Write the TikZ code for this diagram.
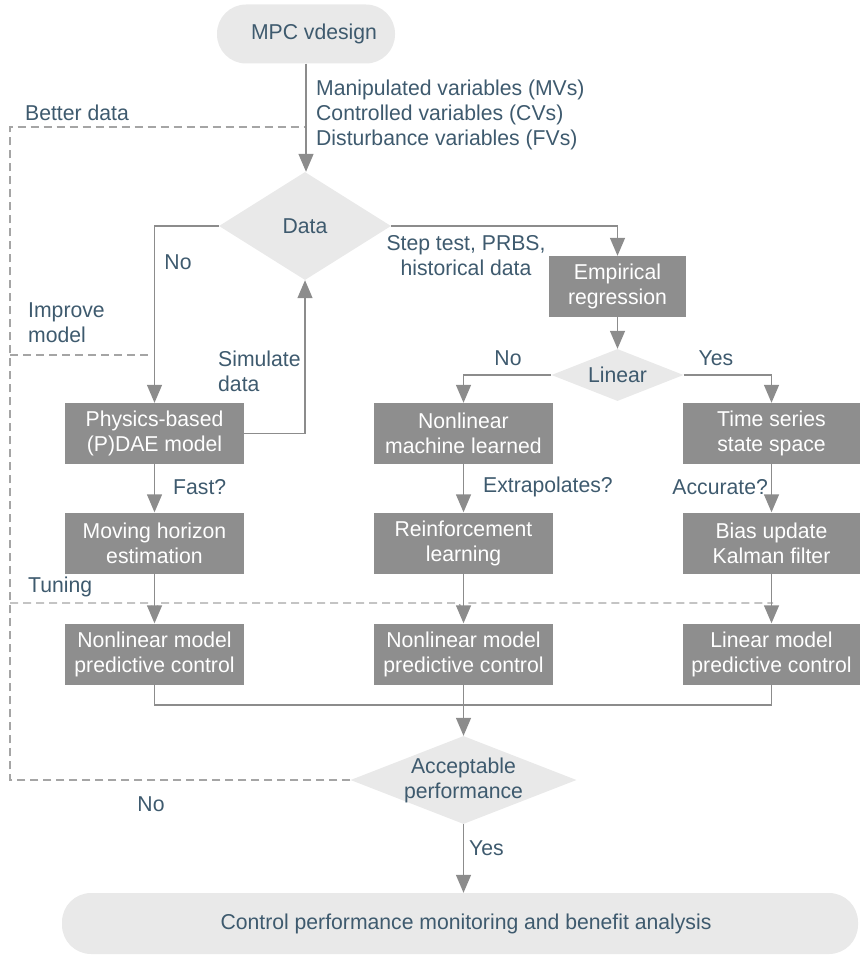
\documentclass[tikz,border=0pt]{standalone}
\usepackage{fontspec}
\setmainfont{Liberation Sans}[FakeStretch=0.985]
\usetikzlibrary{shapes.geometric,arrows.meta}
\definecolor{txt}{RGB}{62,90,110}
\definecolor{boxg}{RGB}{142,142,142}
\definecolor{lightg}{RGB}{233,233,233}
\definecolor{lineg}{RGB}{140,140,140}
\definecolor{dashg}{RGB}{165,165,165}
\begin{document}
\begin{tikzpicture}[x=1pt,y=-1pt,
 every node/.style={font=\fontsize{21.5}{25}\selectfont, inner sep=0pt},
 gbox/.style={rectangle, fill=boxg, text=white, minimum width=179pt, minimum height=61pt, align=center},
 pill/.style={rectangle, rounded corners=29pt, fill=lightg, text=txt},
 dia/.style={diamond, fill=lightg},
 dlabel/.style={align=center, text=txt},
 lbl/.style={text=txt, align=left},
 conn/.style={draw=lineg, line width=1.4pt},
 arr/.style={conn, -{Triangle[length=18pt,width=15pt]}},
 fb/.style={draw=dashg, line width=1.4pt, dash pattern=on 8pt off 5pt}]
\useasboundingbox (0,0) rectangle (859,955);

% nodes
\node[pill, minimum width=178pt, minimum height=59pt] (mpc) at (306,34) {\hspace*{16pt}MPC vdesign};
\node[dia, minimum width=172pt, minimum height=108pt, label={[dlabel]center:Data}] (data) at (305,226) {};
\node[gbox, minimum width=137pt, minimum height=61pt] (emp) at (617.5,286.5) {Empirical\\regression};
\node[dia, minimum width=132pt, minimum height=52pt, label={[dlabel]center:Linear}] (lin) at (617.5,375) {};
\node[gbox] (phys) at (154.5,433.5) {Physics-based\\(P)DAE model};
\node[gbox] (nml) at (463.5,433.5) {Nonlinear\\machine learned};
\node[gbox, minimum width=177pt] (ts) at (771.5,433.5) {Time series\\state space};
\node[gbox] (mhe) at (154.5,543) {Moving horizon\\estimation};
\node[gbox] (rl) at (463.5,543) {Reinforcement\\learning};
\node[gbox, minimum width=177pt] (kal) at (771.5,543) {Bias update\\Kalman filter};
\node[gbox] (nm1) at (154.5,654) {Nonlinear model\\predictive control};
\node[gbox] (nm2) at (463.5,654) {Nonlinear model\\predictive control};
\node[gbox, minimum width=177pt] (lm) at (771.5,654) {Linear model\\predictive control};
\node[dia, minimum width=226pt, minimum height=88pt, label={[dlabel]center:Acceptable\\performance}] (acc) at (463.5,780) {};
\node[pill, minimum width=796pt, minimum height=61pt] (cpm) at (460,923.5) {\hspace*{12pt}Control performance monitoring and benefit analysis};

% labels
\node[lbl, anchor=west] (vars) at (316,115) {Manipulated variables (MVs)\\Controlled variables (CVs)\\Disturbance variables (FVs)};
\node[lbl, anchor=west] (betterdata) at (25,113) {Better data};
\node[lbl] (no1) at (178,262) {No};
\node[lbl, anchor=west] (sim) at (218,371) {Simulate\\data};
\node[lbl, anchor=west] (impr) at (28,323) {Improve\\model};
\node[lbl, align=center] (step) at (466,256) {Step test, PRBS,\\historical data};
\node[lbl] (no2) at (508,358) {No};
\node[lbl] (yes1) at (716,358) {Yes};
\node[lbl, anchor=west] (fast) at (173,487) {Fast?};
\node[lbl, anchor=west] (extr) at (483,487) {Extrapolates?};
\node[lbl, anchor=east] (accu) at (768,487) {Accurate?};
\node[lbl, anchor=west] (tun) at (28,587) {Tuning};
\node[lbl] (no3) at (151,804) {No};
\node[lbl, anchor=west] (yes2) at (469,848) {Yes};

% coordinates
\coordinate (bd) at (305,127);
\coordinate (bdl) at (10,127);
\coordinate (im1) at (10,355);
\coordinate (im2) at (148,355);
\coordinate (t1) at (10,603);
\coordinate (t2) at (773,603);
\coordinate (join) at (463.5,705);

% feedback dashed lines
\draw[fb] (acc.west) -| (bdl) -- (bd);
\draw[fb] (im1) -- (im2);
\draw[fb] (t1) -- ([xshift=-4.5pt]mhe.south |- t1) arc (180:360:4.5pt)
  -- ([xshift=-4.5pt]rl.south |- t1) arc (180:360:4.5pt) -- (t2);

% connectors
\draw[arr] (mpc.south) -- (mpc.south |- data.north);
\draw[arr] (data.west) -| (phys.north);
\draw[arr] (phys.east) -| (data.south);
\draw[arr] (data.east) -| (emp.north);
\draw[arr] (emp.south) -- (lin.north);
\draw[arr] (lin.west) -| (nml.north);
\draw[arr] (lin.east) -| (ts.north);
\draw[arr] (phys.south) -- (mhe.north);
\draw[arr] (nml.south) -- (rl.north);
\draw[arr] (ts.south) -- (kal.north);
\draw[arr] (mhe.south) -- (nm1.north);
\draw[arr] (rl.south) -- (nm2.north);
\draw[arr] (kal.south) -- (lm.north);
\draw[conn] (nm1.south) |- (join);
\draw[conn] (lm.south) |- (join);
\draw[arr] (nm2.south) -- (acc.north);
\draw[arr] (acc.south) -- (acc.south |- cpm.north);
\end{tikzpicture}
\end{document}
